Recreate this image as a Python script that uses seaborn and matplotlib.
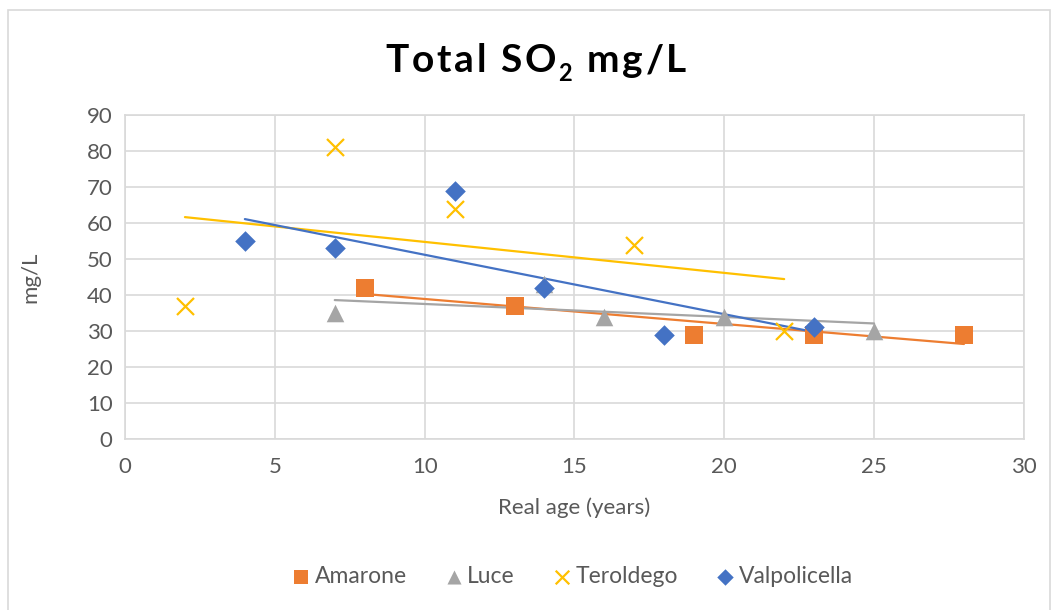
import numpy as np
import pandas as pd
import matplotlib
matplotlib.use("Agg")
import matplotlib.pyplot as plt
import seaborn as sns
from matplotlib.patches import Rectangle

# data
wines = ["Amarone", "Luce", "Teroldego", "Valpolicella"]

amarone_age = [8, 13, 19, 23, 28]
amarone_so2 = [42, 37, 29, 29, 29]

luce_age = [7, 14, 16, 20, 25]
luce_so2 = [35, 43, 34, 34, 30]

teroldego_age = [2, 7, 11, 17, 22]
teroldego_so2 = [37, 81, 64, 54, 30]

valpolicella_age = [4, 7, 11, 14, 18, 23]
valpolicella_so2 = [55, 53, 69, 42, 29, 31]

colors = {"Amarone": "#ED7D31", "Luce": "#A5A5A5",
          "Teroldego": "#FFC000", "Valpolicella": "#4472C4"}
markers = {"Amarone": "s", "Luce": "^", "Teroldego": "x", "Valpolicella": "D"}
sizes = {"Amarone": 160, "Luce": 160, "Teroldego": 150, "Valpolicella": 110}

frames = []
for name, xs, ys in [("Amarone", amarone_age, amarone_so2),
                     ("Luce", luce_age, luce_so2),
                     ("Teroldego", teroldego_age, teroldego_so2),
                     ("Valpolicella", valpolicella_age, valpolicella_so2)]:
    frames.append(pd.DataFrame({"age": xs, "so2": ys, "wine": name}))
df = pd.concat(frames, ignore_index=True)

sns.set_style("white")
plt.rcParams["font.family"] = ["Lato", "DejaVu Sans"]

fig = plt.figure(figsize=(10.55, 6.1), dpi=100)
ax = fig.add_axes([0.1185, 0.2803, 0.852, 0.5312])

# chart-area border
fig.patches.append(Rectangle((8 / 1055, -0.01), 1042 / 1055, 1 - 10 / 610 + 0.01,
                             transform=fig.transFigure, fill=False,
                             edgecolor="#D9D9D9", linewidth=1.2))

# trendlines first so markers sit on top
for name in wines:
    sub = df[df["wine"] == name]
    sns.regplot(data=sub, x="age", y="so2", scatter=False, ci=None, truncate=True,
                color=colors[name], line_kws={"linewidth": 1.6, "zorder": 3}, ax=ax)

for name in wines:
    sub = df[df["wine"] == name]
    kw = {"linewidth": 1.6} if markers[name] == "x" else {"linewidth": 0}
    sns.scatterplot(data=sub, x="age", y="so2", color=colors[name],
                    marker=markers[name], s=sizes[name], ax=ax, zorder=4,
                    label=name, **kw)

ax.set_xlim(0, 30)
ax.set_ylim(0, 90)
ax.set_xticks(range(0, 31, 5))
ax.set_yticks(range(0, 91, 10))
ax.grid(True, color="#D9D9D9", linewidth=1.2)
ax.set_axisbelow(True)
for sp in ax.spines.values():
    sp.set_color("#D9D9D9")
    sp.set_linewidth(1.2)
ax.tick_params(axis="both", length=0, labelsize=16, labelcolor="#595959")
ax.tick_params(axis="x", pad=13)
ax.tick_params(axis="y", pad=9)

ax.set_xlabel("Real age (years)", fontsize=16, color="#595959", labelpad=15)
ax.set_ylabel("mg/L", fontsize=16, color="#595959", labelpad=33)

ax.legend(loc="center", bbox_to_anchor=(0.497, -0.425), ncol=4, frameon=False,
          fontsize=16.5, labelcolor="#595959", handlelength=0.9, handletextpad=0.15,
          columnspacing=1.6, markerscale=0.8)

# title with wide letter spacing, built char by char
title_parts = [(c, 28, 0) for c in "Total SO"] + [("2", 17, -5)] + \
              [(c, 28, 0) for c in " mg/L"]
track = 1.9
first = fig.text(0.5, 1 - 72 / 610, title_parts[0][0], fontsize=28,
                 fontweight="bold", va="baseline", ha="left", color="black")
texts = [first]
prev, prev_dy = first, 0
for ch, fs, dy in title_parts[1:]:
    t = ax.annotate(ch, xy=(1, 0), xycoords=prev, xytext=(track, dy - prev_dy),
                    textcoords="offset points", fontsize=fs, fontweight="bold",
                    va="bottom", ha="left", annotation_clip=False, color="black")
    texts.append(t)
    prev, prev_dy = t, dy

fig.canvas.draw()
r = fig.canvas.get_renderer()
x0 = min(t.get_window_extent(r).x0 for t in texts)
x1 = max(t.get_window_extent(r).x1 for t in texts)
centre = 536
first.set_x(first.get_position()[0] + (centre - (x0 + x1) / 2) / fig.bbox.width)

fig.savefig("out.png", dpi=100)
